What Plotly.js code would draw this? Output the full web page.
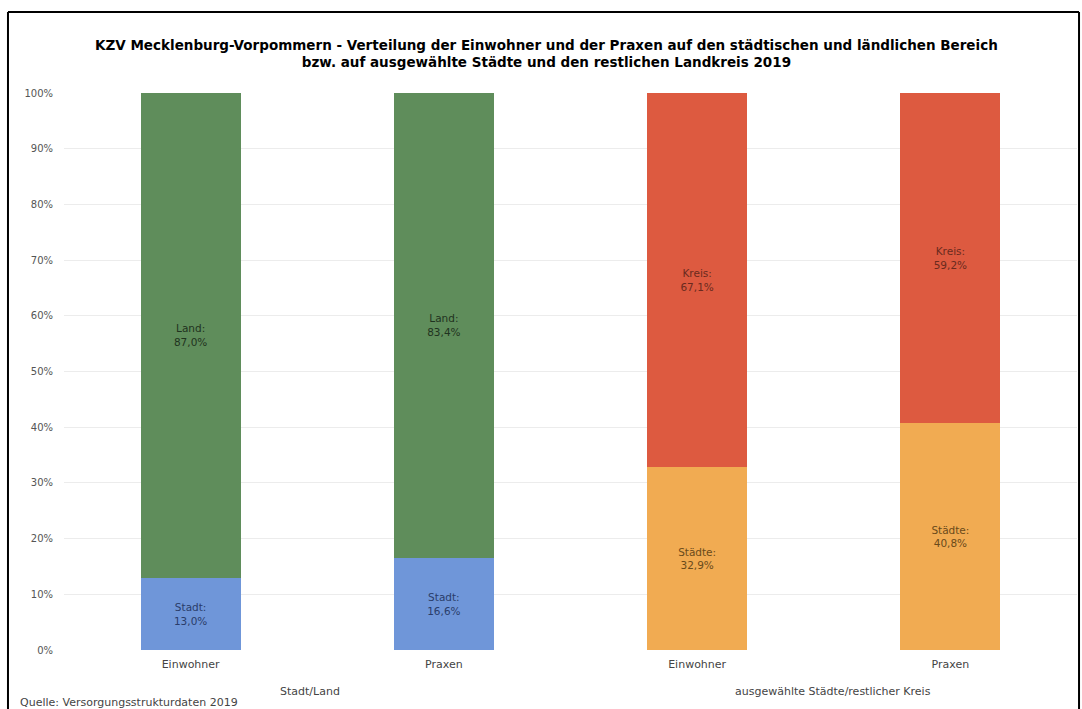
<!DOCTYPE html>
<html>
<head>
<meta charset="utf-8">
<script src="https://cdn.plot.ly/plotly-3.0.1.min.js"></script>
<style>
html,body{margin:0;padding:0;background:#fff;}
#chart{width:1082px;height:709px;}
</style>
</head>
<body>
<div id="chart"></div>
<script>
// ---- data ----
const categories = ['Einwohner', 'Praxen', 'Einwohner', 'Praxen'];
const groupLabels = ['Stadt/Land', 'ausgewählte Städte/restlicher Kreis'];
const stadt = [13.0, 16.6, null, null];
const land = [87.0, 83.4, null, null];
const staedte = [null, null, 32.9, 40.8];
const kreis = [null, null, 67.1, 59.2];
const yTickVals = [0, 10, 20, 30, 40, 50, 60, 70, 80, 90, 100];
const yTickText = yTickVals.map(v => v + '%');
const titleText = 'KZV Mecklenburg-Vorpommern - Verteilung der Einwohner und der Praxen auf den städtischen und ländlichen Bereich<br>bzw. auf ausgewählte Städte und den restlichen Landkreis 2019';
const sourceText = 'Quelle: Versorgungsstrukturdaten 2019';

const xIdx = categories.map((c, i) => i);
const fmt = v => v == null ? '' : v.toFixed(1).replace('.', ',') + '%';
const FONT = 'DejaVu Sans, Liberation Sans, Arial, sans-serif';

function tr(name, label, vals, color, textColor) {
  return {
    type: 'bar', name: name, x: xIdx, y: vals,
    marker: {color: color, line: {width: 0}},
    text: vals.map(v => v == null ? '' : label + ':<br>' + fmt(v)),
    textposition: 'inside', insidetextanchor: 'middle',
    textfont: {family: FONT, size: 10.5, color: textColor},
    hoverinfo: 'skip', cliponaxis: false
  };
}

const data = [
  tr('Stadt', 'Stadt', stadt, '#6f96d9', '#2a3d6a'),
  tr('Land', 'Land', land, '#5f8d5b', '#1f3320'),
  tr('Städte', 'Städte', staedte, '#f1ab52', '#6a4a1a'),
  tr('Kreis', 'Kreis', kreis, '#dd5a40', '#6a2a1e')
];

const layout = {
  width: 1082, height: 709,
  margin: {l: 64, r: 5, t: 93, b: 59},
  paper_bgcolor: '#ffffff', plot_bgcolor: '#ffffff',
  barmode: 'stack', bargap: 0.605,
  showlegend: false,
  font: {family: FONT},
  title: {text: '<b>' + titleText + '</b>', x: 0.505, xanchor: 'center', y: 0.93, yanchor: 'middle',
          font: {family: FONT, size: 13.5, color: '#000'}},
  xaxis: {
    tickmode: 'array', tickvals: xIdx, ticktext: categories,
    range: [-0.5, 3.5], showgrid: false, zeroline: false, showline: false,
    ticks: '', tickfont: {family: FONT, size: 11, color: '#444'}, ticklabelstandoff: 6
  },
  yaxis: {
    range: [0, 100], tickmode: 'array', tickvals: yTickVals, ticktext: yTickText,
    showgrid: true, gridcolor: '#ececec', gridwidth: 1, zeroline: false, showline: false,
    ticks: '', tickfont: {family: FONT, size: 10, color: '#555'}, ticklabelstandoff: 10
  },
  annotations: [
    {text: groupLabels[0], xref: 'paper', yref: 'paper', x: 0.243, y: -0.074, xanchor: 'center', yanchor: 'middle',
     showarrow: false, font: {family: FONT, size: 11, color: '#444'}},
    {text: groupLabels[1], xref: 'paper', yref: 'paper', x: 0.759, y: -0.074, xanchor: 'center', yanchor: 'middle',
     showarrow: false, font: {family: FONT, size: 11, color: '#444'}},
    {text: sourceText, xref: 'paper', yref: 'paper', x: -0.045, y: -0.094, xanchor: 'left', yanchor: 'middle',
     showarrow: false, font: {family: FONT, size: 11, color: '#444'}}
  ],
  shapes: [
    {type: 'line', xref: 'paper', yref: 'paper', x0: -0.0553, x1: -0.0553, y0: 1.1454, y1: -0.2, line: {color: '#000', width: 2}},
    {type: 'line', xref: 'paper', yref: 'paper', x0: -0.0553, x1: 1.002, y0: 1.1454, y1: 1.1454, line: {color: '#000', width: 2}},
    {type: 'line', xref: 'paper', yref: 'paper', x0: 1.002, x1: 1.002, y0: 1.1454, y1: -0.2, line: {color: '#000', width: 2}}
  ]
};

Plotly.newPlot('chart', data, layout, {displayModeBar: false, staticPlot: true});
</script>
</body>
</html>
